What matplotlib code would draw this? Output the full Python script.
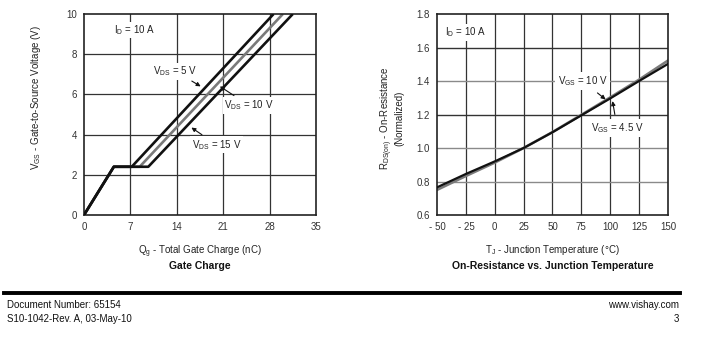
import matplotlib
matplotlib.use("Agg")
import matplotlib.pyplot as plt

plt.rcParams['font.family'] = ['Liberation Sans', 'DejaVu Sans']

# Gate charge curves (Qg in nC, VGS in V)
qg_5v = [0, 4.5, 7.2, 28.6]
vgs_5v = [0, 2.4, 2.4, 10]
qg_10v = [0, 4.5, 8.4, 30.0]
vgs_10v = [0, 2.4, 2.4, 10]
qg_15v = [0, 4.5, 9.7, 31.5]
vgs_15v = [0, 2.4, 2.4, 10]
qg_ticks = [0, 7, 14, 21, 28, 35]
vgs_ticks = [0, 2, 4, 6, 8, 10]

# Normalized on-resistance vs junction temperature
tj = [-50, -25, 0, 25, 50, 75, 100, 125, 150]
rds_10v = [0.75, 0.833, 0.913, 1.0, 1.095, 1.198, 1.302, 1.408, 1.522]
rds_4v5 = [0.765, 0.845, 0.92, 1.0, 1.094, 1.195, 1.296, 1.40, 1.502]
tj_ticks = [-50, -25, 0, 25, 50, 75, 100, 125, 150]
tj_labels = ['- 50', '- 25', '0', '25', '50', '75', '100', '125', '150']
rds_ticks = [0.6, 0.8, 1.0, 1.2, 1.4, 1.6, 1.8]
rds_labels = ['0.6', '0.8', '1.0', '1.2', '1.4', '1.6', '1.8']

DARK = '#222222'
GRID_DARK = '#333333'
GRID_GRAY = '#8a8a8a'
CURVE_GRAY = '#7a7a7a'

fig = plt.figure(figsize=(7.1, 3.5), dpi=100)

ax1 = fig.add_axes([0.1183, 0.3857, 0.3268, 0.5743])
ax2 = fig.add_axes([0.6155, 0.3857, 0.3253, 0.5743])

for ax in (ax1, ax2):
    for s in ax.spines.values():
        s.set_color(DARK)
        s.set_linewidth(1.2)
    ax.tick_params(length=0, labelsize=7, pad=5, colors='#333333')

# ---- Gate charge ----
ax1.set_xlim(0, 35)
ax1.set_ylim(0, 10)
ax1.set_xticks(qg_ticks)
ax1.set_yticks(vgs_ticks)
for x in qg_ticks[1:-1]:
    ax1.axvline(x, color=GRID_DARK, lw=0.9, zorder=1)
for y in vgs_ticks[1:-1]:
    ax1.axhline(y, color=GRID_DARK, lw=0.9, zorder=1)

ax1.plot(qg_5v, vgs_5v, color='#111111', lw=1.9, zorder=3, solid_capstyle='butt')
ax1.plot(qg_10v, vgs_10v, color=CURVE_GRAY, lw=1.9, zorder=2, solid_capstyle='butt')
ax1.plot(qg_15v, vgs_15v, color='#111111', lw=1.9, zorder=3, solid_capstyle='butt')

bbox = dict(boxstyle='square,pad=0.15', fc='white', ec='none')
arrow = dict(arrowstyle='-|>', color='#111111', lw=0.8, mutation_scale=6)
ax1.text(4.6, 9.2, r'I$_\mathregular{D}$ = 10 A', fontsize=7, color='#222222',
         bbox=bbox, va='center', zorder=5)
ax1.annotate(r'V$_\mathregular{DS}$ = 5 V', xy=(17.6, 6.4), xytext=(13.8, 7.15),
             fontsize=7, color='#222222', va='center', ha='center', bbox=bbox,
             arrowprops=dict(arrow, shrinkA=2, shrinkB=0), zorder=5)
ax1.annotate(r'V$_\mathregular{DS}$ = 10 V', xy=(20.5, 6.4), xytext=(24.9, 5.45),
             fontsize=7, color='#222222', va='center', ha='center', bbox=bbox,
             arrowprops=dict(arrow, shrinkA=2, shrinkB=0), zorder=5)
ax1.annotate(r'V$_\mathregular{DS}$ = 15 V', xy=(16.2, 4.35), xytext=(20.0, 3.5),
             fontsize=7, color='#222222', va='center', ha='center', bbox=bbox,
             arrowprops=dict(arrow, shrinkA=2, shrinkB=0), zorder=5)

ax1.set_ylabel(r'V$_\mathregular{GS}$ - Gate-to-Source Voltage (V)', fontsize=7,
               color='#222222')
ax1.yaxis.set_label_coords(-0.175, 0.585)
ax1.set_xlabel(r'Q$_\mathregular{g}$ - Total Gate Charge (nC)', fontsize=7,
               color='#222222')
ax1.xaxis.set_label_coords(0.5, -0.14)
fig.text(0.2817, 0.24, 'Gate Charge', fontsize=7.5, fontweight='bold',
         ha='center', va='center', color='#111111')

# ---- On-resistance vs junction temperature ----
ax2.set_xlim(-50, 150)
ax2.set_ylim(0.6, 1.8)
ax2.set_xticks(tj_ticks)
ax2.set_xticklabels(tj_labels)
ax2.set_yticks(rds_ticks)
ax2.set_yticklabels(rds_labels)
for x in tj_ticks[1:-1]:
    ax2.axvline(x, color=GRID_DARK, lw=0.9, zorder=1)
for y, c in zip(rds_ticks[1:-1], [GRID_GRAY, GRID_GRAY, GRID_DARK, GRID_GRAY, GRID_DARK]):
    ax2.axhline(y, color=c, lw=1.0, zorder=1)

ax2.plot(tj, rds_10v, color=CURVE_GRAY, lw=1.9, zorder=2)
ax2.plot(tj, rds_4v5, color='#111111', lw=1.6, zorder=3)

ax2.text(-43, 1.69, r'I$_\mathregular{D}$ = 10 A', fontsize=7, color='#222222',
         bbox=bbox, va='center', zorder=5)
ax2.annotate(r'V$_\mathregular{GS}$ = 10 V', xy=(96, 1.29), xytext=(76, 1.4),
             fontsize=7, color='#222222', va='center', ha='center',
             bbox=dict(boxstyle='square,pad=0.25', fc='white', ec='none'),
             arrowprops=dict(arrow, shrinkA=3, shrinkB=0), zorder=5)
ax2.annotate(r'V$_\mathregular{GS}$ = 4.5 V', xy=(102, 1.28), xytext=(106, 1.12),
             fontsize=7, color='#222222', va='center', ha='center',
             bbox=dict(boxstyle='square,pad=0.25', fc='white', ec='none'),
             arrowprops=dict(arrow, shrinkA=3, shrinkB=0), zorder=5)

ax2.set_ylabel('R$_\\mathregular{DS(on)}$ - On-Resistance\n(Normalized)', fontsize=7,
               color='#222222', linespacing=0.95)
ax2.yaxis.set_label_coords(-0.14, 0.48)
ax2.set_xlabel(r'T$_\mathregular{J}$ - Junction Temperature (°C)', fontsize=7,
               color='#222222')
ax2.xaxis.set_label_coords(0.5, -0.14)
fig.text(0.7782, 0.24, 'On-Resistance vs. Junction Temperature', fontsize=7.5,
         fontweight='bold', ha='center', va='center', color='#111111')

# ---- Page footer ----
fig.add_artist(plt.Line2D([0.006, 0.958], [0.163, 0.163], color='black', lw=2.8,
                          transform=fig.transFigure))
fig.text(0.0095, 0.128, 'Document Number: 65154', fontsize=7, va='center', color='#111111')
fig.text(0.0095, 0.09, 'S10-1042-Rev. A, 03-May-10', fontsize=7, va='center', color='#111111')
fig.text(0.957, 0.128, 'www.vishay.com', fontsize=7, va='center', ha='right', color='#111111')
fig.text(0.957, 0.09, '3', fontsize=7, va='center', ha='right', color='#111111')

fig.savefig('out.png', dpi=100, facecolor='white')
